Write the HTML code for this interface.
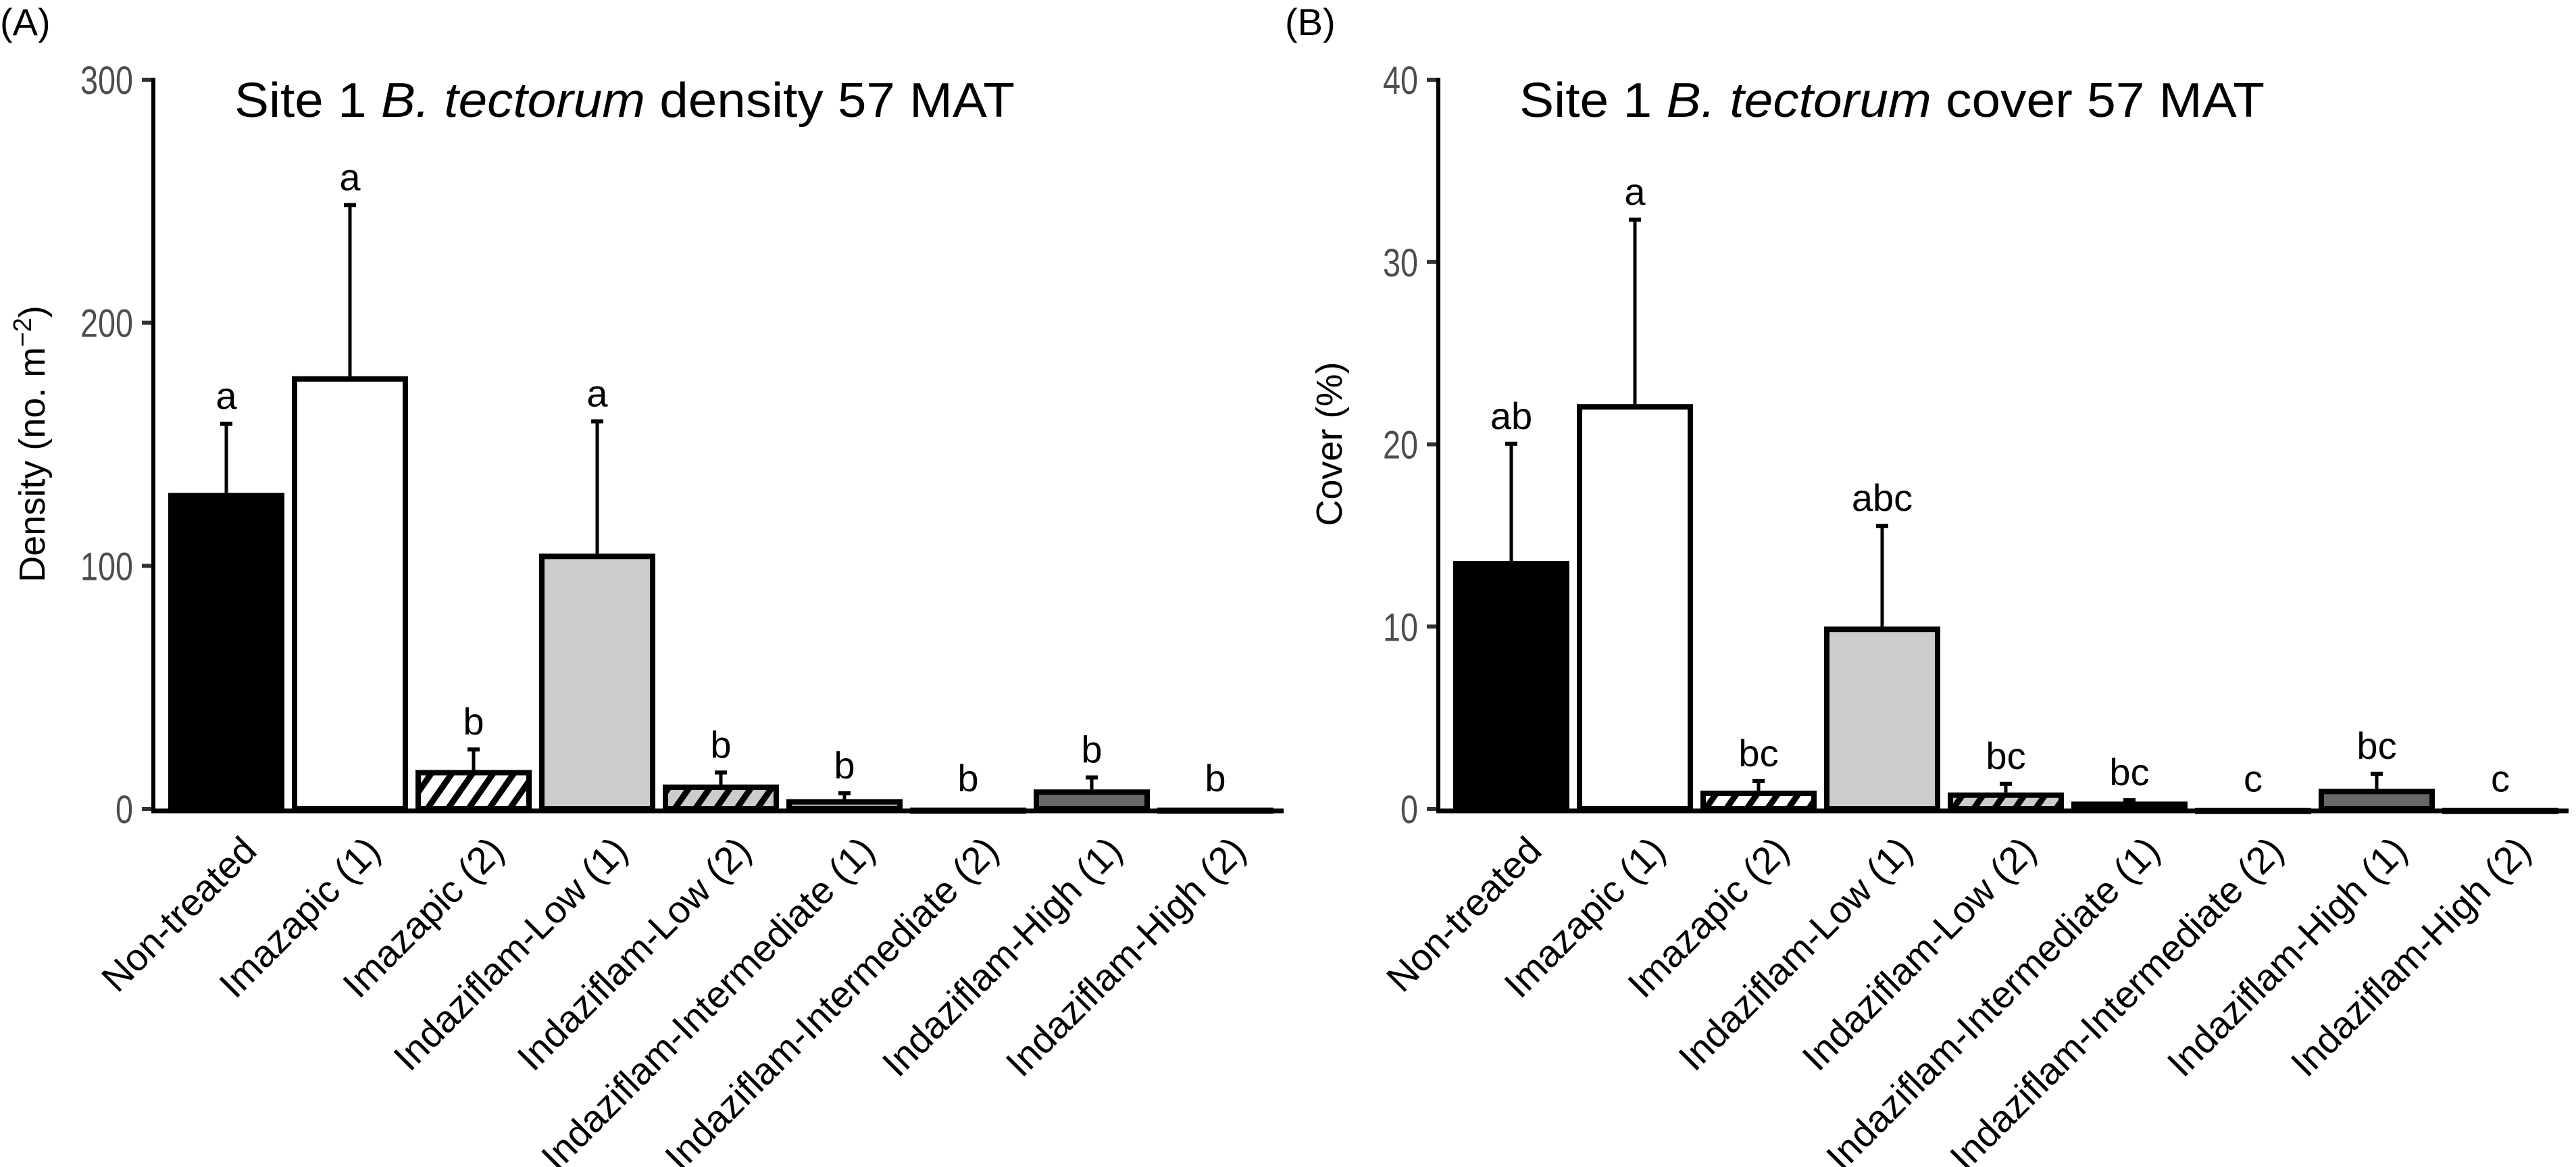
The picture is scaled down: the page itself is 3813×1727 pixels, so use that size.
<!DOCTYPE html>
<html><head><meta charset="utf-8"><style>
html,body{margin:0;padding:0;background:#fff;}
svg{display:block;}
text{font-family:"Liberation Sans",sans-serif;}
</style></head><body>
<svg id="chart" width="3813" height="1727" viewBox="0 0 3813 1727" xmlns="http://www.w3.org/2000/svg">
<defs>
<pattern id="hatchW" patternUnits="userSpaceOnUse" width="25" height="25" patternTransform="rotate(35)">
<rect width="25" height="25" fill="#fff"/><rect x="0" y="0" width="9" height="25" fill="#000"/></pattern>
<pattern id="hatchG" patternUnits="userSpaceOnUse" width="25" height="25" patternTransform="rotate(35)">
<rect width="25" height="25" fill="#cccccc"/><rect x="0" y="0" width="9" height="25" fill="#000"/></pattern>
</defs>
<g id="panels"></g>
</svg>
<script>
const categories = ["Non-treated","Imazapic (1)","Imazapic (2)","Indaziflam-Low (1)","Indaziflam-Low (2)","Indaziflam-Intermediate (1)","Indaziflam-Intermediate (2)","Indaziflam-High (1)","Indaziflam-High (2)"];
const densityValues = [130, 178, 16, 105, 10, 4, 0.5, 8, 0.5];
const densityErrors = [159, 249, 25, 160, 15.5, 7, 0.5, 13.5, 0.5];
const densityLetters = ["a","a","b","a","b","b","b","b","b"];
const densityTicks = [0, 100, 200, 300];
const coverValues = [13.6, 22.2, 1.0, 10.0, 0.9, 0.4, 0.05, 1.1, 0.05];
const coverErrors = [20.1, 32.4, 1.6, 15.6, 1.45, 0.55, 0.05, 2.0, 0.05];
const coverLetters = ["ab","a","bc","abc","bc","bc","c","bc","c"];
const coverTicks = [0, 10, 20, 30, 40];
const fills = ["#000","#fff","url(#hatchW)","#cccccc","url(#hatchG)","#a0a0a0","#a0a0a0","#686868","#686868"];

const NS = "http://www.w3.org/2000/svg";
const root = document.getElementById("panels");
function mk(tag, attrs, parent, txt){
  const e = document.createElementNS(NS, tag);
  for (const k in attrs) e.setAttribute(k, attrs[k]);
  if (txt !== undefined) e.textContent = txt;
  (parent||root).appendChild(e);
  return e;
}

function panel(ox, tag, titleParts, yLabel, yMax, ticks, vals, errs, letters, titleLen, key){
  const g = mk("g", {});
  
  
  const y0 = 1197, yTop = 118;
  const yScale = v => y0 - (v / yMax) * (y0 - yTop);
  const xBar = i => ox + 249 + i * 183;
  const bw = 172;

  const pl = mk("text", {x: ox + 0, y: 52, "font-size": 56, fill: "#000"}, g, tag);
  
  

  const t = mk("text", {x: ox + 347, y: 173, "font-size": 72, fill: "#000", textLength: titleLen, lengthAdjust: "spacingAndGlyphs"}, g);
  
  
  mk("tspan", {}, t, titleParts[0]);
  mk("tspan", {"font-style": "italic"}, t, titleParts[1]);
  mk("tspan", {}, t, titleParts[2]);

  const yl = mk("text", {x: 0, y: 0, "font-size": 54, fill: "#000", "text-anchor": "middle", transform: `translate(${ox + (key==='density'?66:84)},657) rotate(-90)`}, g);
  
  
  if (key === 'density') {
    mk("tspan", {}, yl, "Density (no. m");
    mk("tspan", {dy: -20, "font-size": 38}, yl, "\u22122");
    mk("tspan", {dy: 20}, yl, ")");
  } else {
    yl.textContent = yLabel;
  }

  ticks.forEach(v => {
    const y = yScale(v);
    const tk = mk("line", {x1: ox + 210, x2: ox + 228, y1: y, y2: y, stroke: "#333", "stroke-width": 6}, g);
    
    
    const tl = mk("text", {x: ox + 197, y: y + 21, "font-size": 58, fill: "#4d4d4d", "text-anchor": "end", textLength: String(v).length * 26, lengthAdjust: "spacingAndGlyphs"}, g, String(v));
    
    
  });

  vals.forEach((v, i) => {
    const x = xBar(i);
    const yt = yScale(v);
    const h = Math.max(y0 - yt, 0);
    const b = mk("rect", {x: x + 4, y: yt + 4, width: bw - 8, height: Math.max(h - 4, 1), fill: fills[i], stroke: "#000", "stroke-width": 8}, g);
    
    
    const ye = yScale(errs[i]);
    const cx = x + bw / 2;
    if (errs[i] > v) {
      const el = mk("line", {x1: cx, x2: cx, y1: yt, y2: ye, stroke: "#000", "stroke-width": 5}, g);
      
      
      const cp = mk("line", {x1: cx - 9, x2: cx + 9, y1: ye + 2, y2: ye + 2, stroke: "#000", "stroke-width": 6}, g);
      
      
    }
    const top = Math.min(ye, yt);
    const lt = mk("text", {x: cx, y: top - (errs[i] > v ? 20 : 24), "font-size": 56, fill: "#000", "text-anchor": "middle"}, g, letters[i]);
    
    

    const xl = mk("text", {x: 0, y: 0, "font-size": 56, fill: "#000", "text-anchor": "end", transform: `translate(${cx + 48},1262) rotate(-45)`}, g, categories[i]);
    
    
  });

  const ya = mk("line", {x1: ox + 227, x2: ox + 227, y1: 115, y2: 1200, stroke: "#000", "stroke-width": 6}, g);
  
  
  const xa = mk("line", {x1: ox + 224, x2: ox + 1900, y1: 1200, y2: 1200, stroke: "#000", "stroke-width": 7}, g);
  
  
}

panel(0, "(A)", ["Site 1 ", "B. tectorum", " density 57 MAT"], "Density (no. m-2)", 300, densityTicks, densityValues, densityErrors, densityLetters, 1155, 'density');
panel(1902, "(B)", ["Site 1 ", "B. tectorum", " cover 57 MAT"], "Cover (%)", 40, coverTicks, coverValues, coverErrors, coverLetters, 1103, 'cover');
</script>
</body></html>
